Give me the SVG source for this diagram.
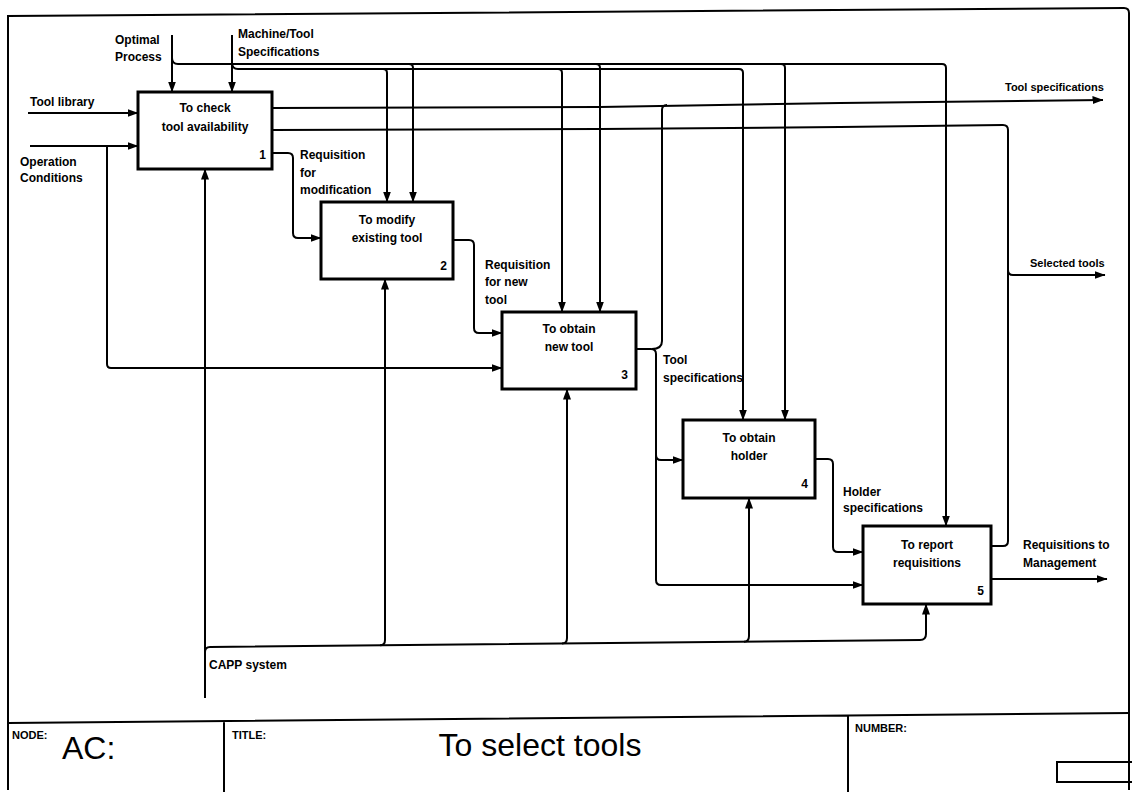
<svg xmlns="http://www.w3.org/2000/svg" width="1132" height="792" viewBox="0 0 1132 792">
  <defs>
    <marker id="arr" markerUnits="userSpaceOnUse" markerWidth="11" markerHeight="8" refX="10.5" refY="4" orient="auto">
      <path d="M0,0 L11,4 L0,8 z" fill="#000"/>
    </marker>
  </defs>
  <style>
    .frame{fill:none;stroke:#000;stroke-width:2}
    .box{fill:#fff;stroke:#000;stroke-width:3}
    .c{fill:none;stroke:#000;stroke-width:2}
    .a{marker-end:url(#arr)}
    text{font-family:"Liberation Sans",Arial,sans-serif;fill:#000}
    .lb{font-size:12px;font-weight:bold}
    .sm{font-size:11px;font-weight:bold}
    .bt{font-size:12px;font-weight:bold;text-anchor:middle}
    .num{font-size:12px;font-weight:bold;text-anchor:end}
    .big{font-size:32px}
  </style>
  <rect width="1132" height="792" fill="#fff"/>

  <!-- sheet border and title block -->
  <g id="sheet">
    <path class="frame" d="M8,790 V16 L1124,8 Q1129,8 1129,13 V790"/>
    <path class="frame" d="M8,723 L1130,713 M224,722 V792 M848,716 V792 M1132,762 H1057 V782 H1132"/>
    <text class="sm" x="12" y="739">NODE:</text>
    <text class="big" x="62" y="759">AC:</text>
    <text class="sm" x="232" y="739">TITLE:</text>
    <text class="big" x="540" y="756" text-anchor="middle">To select tools</text>
    <text class="sm" x="855" y="732">NUMBER:</text>
  </g>

  <!-- activity boxes -->
  <g id="node1">
    <rect class="box" x="138" y="92" width="134" height="77"/>
    <text class="bt" x="205" y="112">To check</text>
    <text class="bt" x="205" y="131">tool availability</text>
    <text class="num" x="266" y="159">1</text>
  </g>
  <g id="node2">
    <rect class="box" x="321" y="202" width="132" height="77"/>
    <text class="bt" x="387" y="224">To modify</text>
    <text class="bt" x="387" y="242">existing tool</text>
    <text class="num" x="447" y="270">2</text>
  </g>
  <g id="node3">
    <rect class="box" x="502" y="312" width="134" height="77"/>
    <text class="bt" x="569" y="333">To obtain</text>
    <text class="bt" x="569" y="351">new tool</text>
    <text class="num" x="628" y="379">3</text>
  </g>
  <g id="node4">
    <rect class="box" x="683" y="420" width="132" height="78"/>
    <text class="bt" x="749" y="442">To obtain</text>
    <text class="bt" x="749" y="460">holder</text>
    <text class="num" x="808" y="488">4</text>
  </g>
  <g id="node5">
    <rect class="box" x="863" y="526" width="128" height="78"/>
    <text class="bt" x="927" y="549">To report</text>
    <text class="bt" x="927" y="567">requisitions</text>
    <text class="num" x="984" y="595">5</text>
  </g>

  <!-- arrows -->
  <g id="connectors">
    <!-- inputs -->
    <path class="c a" d="M28,113 H138"/>
    <path class="c a" d="M30,146 H138"/>
    <path class="c a" d="M107,146 V364 Q107,368 111,368 H502"/>
    <!-- controls: optimal process -->
    <path class="c a" d="M172,35 V92"/>
    <path class="c a" d="M172,58 Q172,64 178,64 H942 Q946,64 946,68 V526"/>
    <path class="c a" d="M409,64 Q413,64 413,68 V202"/>
    <path class="c a" d="M596,64 Q600,64 600,68 V312"/>
    <path class="c a" d="M781,64 Q785,64 785,68 V420"/>
    <!-- controls: machine/tool specifications -->
    <path class="c a" d="M232,35 V92"/>
    <path class="c a" d="M232,63 Q232,69 238,69 H739 Q743,69 743,73 V420"/>
    <path class="c a" d="M383,69 Q387,69 387,73 V202"/>
    <path class="c a" d="M558,69 Q562,69 562,73 V312"/>
    <!-- outputs -->
    <path class="c a" d="M272,108 L600,107 L840,103 L1103,100"/>
    <path class="c" d="M652,349 Q662,349 662,341 V110 Q662,105 667,105"/>
    <path class="c" d="M272,130 L600,129 L840,127 L1003,125 Q1008,125 1008,130 V541 Q1008,546 1003,546 H990"/>
    <path class="c a" d="M1008,270 Q1008,275 1013,275 H1105"/>
    <path class="c a" d="M272,153 H288 Q293,153 293,158 V233 Q293,238 298,238 H321"/>
    <path class="c a" d="M453,240 H469 Q474,240 474,245 V328 Q474,333 479,333 H502"/>
    <path class="c a" d="M636,349 H651 Q656,349 656,354 V455 Q656,460 661,460 H683"/>
    <path class="c a" d="M656,455 V580 Q656,585 661,585 H863"/>
    <path class="c a" d="M815,459 H828 Q833,459 833,464 V547 Q833,552 838,552 H863"/>
    <path class="c a" d="M990,579 H1107"/>
    <!-- mechanism -->
    <path class="c a" d="M205,698 V169"/>
    <path class="c a" d="M205,652 Q205,647 210,647 L920,640 Q926,640 926,634 V604"/>
    <path class="c a" d="M380,645.3 Q385,645.3 385,640 V279"/>
    <path class="c a" d="M562,643.5 Q567,643.5 567,638 V389"/>
    <path class="c a" d="M744,641.7 Q749,641.7 749,636 V498"/>
  </g>

  <!-- arrow labels -->
  <g id="labels">
    <text class="lb" x="30" y="106">Tool library</text>
    <text class="lb" x="20" y="166">Operation</text>
    <text class="lb" x="20" y="182">Conditions</text>
    <text class="lb" x="115" y="44">Optimal</text>
    <text class="lb" x="115" y="61">Process</text>
    <text class="lb" x="238" y="38">Machine/Tool</text>
    <text class="lb" x="238" y="56">Specifications</text>
    <text class="lb" x="300" y="159">Requisition</text>
    <text class="lb" x="300" y="177">for</text>
    <text class="lb" x="300" y="194">modification</text>
    <text class="lb" x="485" y="269">Requisition</text>
    <text class="lb" x="485" y="286">for new</text>
    <text class="lb" x="485" y="304">tool</text>
    <text class="lb" x="663" y="364">Tool</text>
    <text class="lb" x="663" y="382">specifications</text>
    <text class="lb" x="843" y="496">Holder</text>
    <text class="lb" x="843" y="512">specifications</text>
    <text class="lb" x="1023" y="549">Requisitions to</text>
    <text class="lb" x="1023" y="567">Management</text>
    <text class="sm" x="1030" y="267">Selected tools</text>
    <text class="sm" x="1005" y="91">Tool specifications</text>
    <text class="lb" x="209" y="669">CAPP system</text>
  </g>
</svg>
